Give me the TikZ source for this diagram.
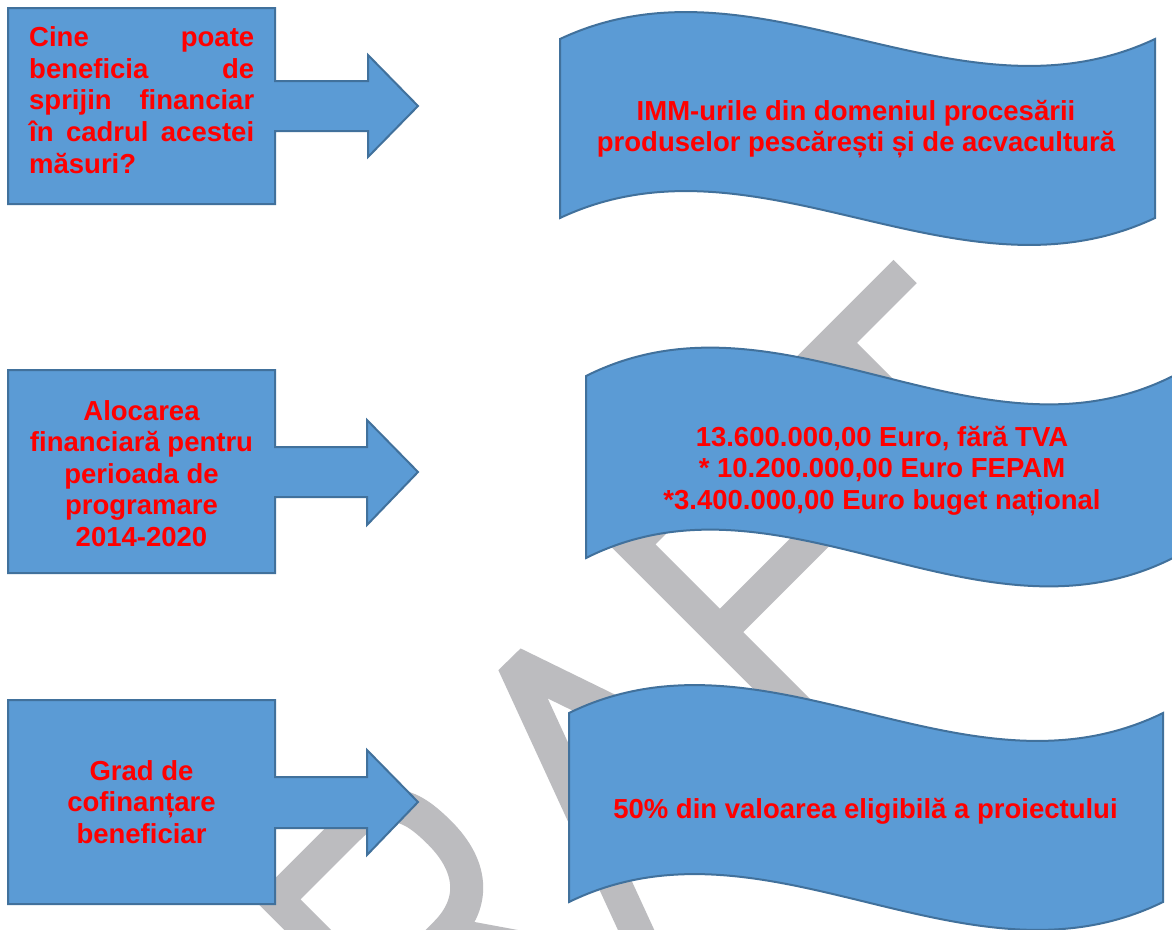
\documentclass[tikz,border=0pt]{standalone}
\usepackage{fontspec}
\setmainfont{Liberation Sans}
\definecolor{boxblue}{RGB}{91,155,213}
\definecolor{boxedge}{RGB}{65,113,156}
\definecolor{wmgray}{RGB}{188,188,191}
\definecolor{txtred}{RGB}{255,0,0}
\begin{document}
\begin{tikzpicture}[x=1pt,y=-1pt,
  shapebox/.style={fill=boxblue,draw=boxedge,line width=2pt,line join=miter},
  lbl/.style={text=txtred,font=\fontsize{27.5}{31.6}\selectfont\bfseries,inner sep=0pt,align=center},
  wm/.style={draw=wmgray,line width=33pt,line join=miter,line cap=butt,miter limit=10}]
\useasboundingbox (0,0) rectangle (1172,929);
\fill[white] (0,0) rectangle (1172,929);
\begin{scope}
\clip (0,0) rectangle (1172,929);
% watermark "DRAFT" (behind the shapes; only R, A, F, T reach the page)
\begin{scope}[x={(0.70711pt,0.70711pt)},y={(-0.70711pt,0.70711pt)}]
 % R
 \draw[wm] (-440,-1170) -- (-440,-832) -- (-340,-832) .. controls (-285,-832) and (-278,-862) .. (-278,-900) .. controls (-278,-945) and (-300,-975) .. (-345,-975) -- (-440,-975);
 \draw[wm] (-345,-975) -- (-235,-1135);
 % A
 \draw[wm,line join=bevel] (-218,-1135) -- (-106,-832) -- (-2,-1135);
 \draw[wm] (-183,-1040) -- (-35,-1040);
 % F
 \draw[wm] (62,-1135) -- (62,-832) -- (230,-832);
 \draw[wm] (62,-956) -- (215,-956);
 % T
 \draw[wm] (246,-832) -- (448,-832);
 \draw[wm] (347,-832) -- (347,-1135);
\end{scope}
% left callouts
\draw[shapebox] (8,8) -- (275,8) -- (275,81) -- (368,81) -- (368,55) -- (418,106) -- (368,157) -- (368,131) -- (275,131) -- (275,204) -- (8,204) -- cycle;
\draw[shapebox] (8,370) -- (275,370) -- (275,447) -- (367,447) -- (367,420) -- (418,472) -- (367,525) -- (367,497) -- (275,497) -- (275,573) -- (8,573) -- cycle;
\draw[shapebox] (8,700) -- (275,700) -- (275,777) -- (367,777) -- (367,750) -- (418,802) -- (367,855) -- (367,828) -- (275,828) -- (275,904) -- (8,904) -- cycle;
% banners
\draw[shapebox] (560,39) .. controls (758.3,-54.3) and (956.7,132.3) .. (1155,39) -- (1155,218) .. controls (956.7,311.3) and (758.3,124.7) .. (560,218) -- cycle;
\draw[shapebox] (586,376) .. controls (781.7,277.7) and (977.3,474.3) .. (1173,376) -- (1173,558) .. controls (977.3,656.3) and (781.7,459.7) .. (586,558) -- cycle;
\draw[shapebox] (569,713) .. controls (767,616.3) and (965,809.7) .. (1163,713) -- (1163,902) .. controls (965,998.7) and (767,805.3) .. (569,902) -- cycle;
\end{scope}
% texts
\node[lbl, anchor=north west, text width=225pt, align=left] (q1) at (29,26.5) {Cine\hfill poate\\beneficia\hfill de\\sprijin\hfill financiar\\în\hfill cadrul\hfill acestei\\măsuri?};
\node[lbl] (q2) at (141.5,473.5) {Alocarea\\financiară pentru\\perioada de\\programare\\2014-2020};
\node[lbl] (q3) at (141.5,802) {Grad de\\cofinanțare\\beneficiar};
\node[lbl] (a1) at (856,129) {IMM-urile din domeniul procesării\\produselor pescărești și de acvacultură};
\node[lbl] (a2) at (882,471) {13.600.000,00 Euro, fără TVA\\* 10.200.000,00 Euro FEPAM\\*3.400.000,00 Euro buget național};
\node[lbl] (a3) at (865.5,811) {50\% din valoarea eligibilă a proiectului};
\end{tikzpicture}
\end{document}
